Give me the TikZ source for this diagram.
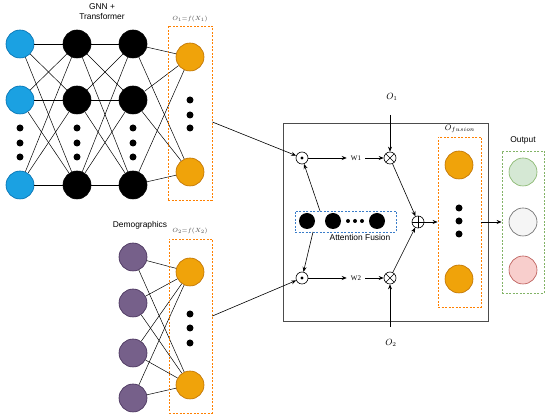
\documentclass[tikz,border=0pt]{standalone}
\usepackage{fontspec}
\setmainfont{Liberation Sans}
\newfontfamily\serifed{Liberation Serif}
\usetikzlibrary{arrows.meta,calc}
\definecolor{cblue}{HTML}{1BA1E2}
\definecolor{cbluel}{HTML}{006EAF}
\definecolor{corange}{HTML}{F0A30A}
\definecolor{corangel}{HTML}{BD7000}
\definecolor{cpurple}{HTML}{76608A}
\definecolor{cpurplel}{HTML}{432D57}
\definecolor{dashorange}{HTML}{FF8000}
\definecolor{dashblue}{HTML}{3A7DC9}
\definecolor{dashgreen}{HTML}{82B366}
\definecolor{cgreen}{HTML}{D5E8D4}
\definecolor{cgreenl}{HTML}{82B366}
\definecolor{cgrey}{HTML}{F5F5F5}
\definecolor{cgreyl}{HTML}{666666}
\definecolor{cred}{HTML}{F8CECC}
\definecolor{credl}{HTML}{B85450}
\tikzset{
  neuron/.style={circle, minimum size=28pt, inner sep=0pt, line width=0.6pt},
  nblue/.style={neuron, fill=cblue, draw=cbluel},
  nblack/.style={neuron, fill=black, draw=black},
  norange/.style={neuron, fill=corange, draw=corangel},
  npurple/.style={neuron, fill=cpurple, draw=cpurplel},
  ngreen/.style={neuron, fill=cgreen, draw=cgreenl},
  ngrey/.style={neuron, fill=cgrey, draw=cgreyl},
  nred/.style={neuron, fill=cred, draw=credl},
  smalln/.style={circle, minimum size=16pt, inner sep=0pt, fill=black},
  dotn/.style={circle, minimum size=7pt, inner sep=0pt, fill=black},
  tinydot/.style={circle, minimum size=4pt, inner sep=0pt, fill=black},
  dbox/.style={draw, dash pattern=on 2pt off 1.5pt, line width=0.8pt, inner sep=0pt},
  edge/.style={draw=black, line width=0.5pt},
  arr/.style={draw=black, line width=0.6pt, -{Stealth[length=5pt,width=4pt]}},
  op/.style={circle, draw=black, line width=0.6pt, minimum size=12pt, inner sep=0pt, fill=white},
  sanslab/.style={font=\fontsize{8.4}{10}\selectfont, align=center},
  smalllab/.style={font=\fontsize{6}{7}\selectfont, text=black!70},
  wlab/.style={font=\serifed\fontsize{7}{8}\selectfont, inner sep=4pt},
}
\begin{document}
\begin{tikzpicture}[x=1pt, y=-1pt]
\useasboundingbox (0,0) rectangle (550,419);
\fill[white] (0,0) rectangle (550,419);

% ---- GNN + Transformer network ----
\foreach \i/\y in {1/44,2/100,3/185} {
  \node[nblue] (b\i) at (20,\y) {};
  \node[nblack] (h\i) at (77,\y) {};
  \node[nblack] (g\i) at (133,\y) {};
}
\node[norange] (oa1) at (190,57) {};
\node[norange] (oa2) at (190,172) {};
\foreach \i in {1,2,3} {
  \foreach \j in {1,2,3} {
    \draw[edge] (b\i) -- (h\j);
    \draw[edge] (h\i) -- (g\j);
  }
  \draw[edge] (g\i) -- (oa1);
  \draw[edge] (g\i) -- (oa2);
}
\foreach \x/\n in {20/b,77/h,133/g} {
  \node[dotn] (\n d1) at (\x,128) {};
  \node[dotn] (\n d2) at (\x,143) {};
  \node[dotn] (\n d3) at (\x,157) {};
}
\node[dotn] (oad1) at (190,100) {};
\node[dotn] (oad2) at (190,115) {};
\node[dotn] (oad3) at (190,128) {};
\node[dbox, draw=dashorange, minimum width=44pt, minimum height=174pt] (box1) at (190,113) {};
\node[sanslab] (gnnlab) at (102,12) {GNN +\\Transformer};
\node[smalllab] (o1lab) at (190,19) {$O_1{=}f(X_1)$};

% ---- Demographics network ----
\foreach \i/\y in {1/257,2/303,3/353,4/398} {
  \node[npurple] (p\i) at (133,\y) {};
}
\node[norange] (ob1) at (190,272) {};
\node[norange] (ob2) at (190,385) {};
\foreach \i in {1,2,3,4} {
  \draw[edge] (p\i) -- (ob1);
  \draw[edge] (p\i) -- (ob2);
}
\node[dotn] (obd1) at (190,314) {};
\node[dotn] (obd2) at (190,328) {};
\node[dotn] (obd3) at (190,343) {};
\node[dbox, draw=dashorange, minimum width=43pt, minimum height=174pt] (box2) at (190.5,326) {};
\node[sanslab] (demlab) at (140,225) {Demographics};
\node[smalllab] (o2lab) at (190,231) {$O_2{=}f(X_2)$};

% ---- Main fusion block ----
\node[draw=black!70, line width=0.8pt, minimum width=205pt, minimum height=198pt, inner sep=0pt] (main) at (385.5,222) {};

\node[op] (u1) at (302,158) {};
\node[op] (u2) at (302,278) {};
\fill (u1) circle (1.6);
\fill (u2) circle (1.6);
\node[op, path picture={\draw[line width=0.5pt] (path picture bounding box.north west) -- (path picture bounding box.south east) (path picture bounding box.north east) -- (path picture bounding box.south west);}] (x1) at (390,158) {};
\node[op, path picture={\draw[line width=0.5pt] (path picture bounding box.north west) -- (path picture bounding box.south east) (path picture bounding box.north east) -- (path picture bounding box.south west);}] (x2) at (390,278) {};
\node[op, path picture={\draw[line width=0.5pt] (path picture bounding box.north) -- (path picture bounding box.south) (path picture bounding box.east) -- (path picture bounding box.west);}] (s) at (418,222) {};

\node[wlab] (w1) at (356,158) {W1};
\node[wlab] (w2) at (356,278) {W2};
\draw[arr] (u1) -- (w1);
\draw[arr] (w1) -- (x1);
\draw[arr] (u2) -- (w2);
\draw[arr] (w2) -- (x2);

% attention fusion
\node[smalln] (a1) at (307,221) {};
\node[smalln] (a2) at (333,221) {};
\node[smalln] (a3) at (377,221) {};
\node[tinydot] (ad1) at (348,221) {};
\node[tinydot] (ad2) at (355,221) {};
\node[tinydot] (ad3) at (362,221) {};
\node[dbox, draw=dashblue, minimum width=101pt, minimum height=21pt] (att) at (345.5,221.5) {};
\node[sanslab] (attlab) at (360,238) {Attention Fusion};
\coordinate (attn) at (320,211);
\coordinate (atts) at (313,232);
\draw[arr] (attn) -- (u1);
\draw[arr] (atts) -- (u2);

% inputs into fusion block
\draw[arr] ($(box1.east)+(0,9)$) -- (u1);
\draw[arr] ($(box2.east)+(0,-10)$) -- (u2);

% O1, O2
\node (O1) at (392,97) {\fontsize{9}{11}\selectfont $O_1$};
\node (O2) at (391,343) {\fontsize{9}{11}\selectfont $O_2$};
\coordinate (o1s) at (390,115);
\coordinate (o2s) at (390,327);
\draw[arr] (o1s) -- (x1);
\draw[arr] (o2s) -- (x2);

\draw[arr] (x1) -- (s);
\draw[arr] (x2) -- (s);

% fusion output
\node[norange] (f1) at (459,165) {};
\node[norange] (f2) at (459,279) {};
\node[dotn] (fd1) at (459,208) {};
\node[dotn] (fd2) at (459,221) {};
\node[dotn] (fd3) at (459,234) {};
\node[dbox, draw=dashorange, minimum width=43pt, minimum height=170pt] (fbox) at (459.5,222) {};
\node (flab) at (460,129) {\fontsize{8}{9}\selectfont $O_{fusion}$};
\draw[arr] (s) -- (s -| fbox.west);

% output
\node[ngreen] (c1) at (523,172) {};
\node[ngrey] (c2) at (523,222) {};
\node[nred] (c3) at (523,270) {};
\node[dbox, draw=dashgreen, minimum width=42pt, minimum height=142pt] (obox) at (523,222) {};
\node[sanslab] (outlab) at (523,140) {Output};
\draw[arr] (fbox.east) -- (obox.west);
\end{tikzpicture}
\end{document}
